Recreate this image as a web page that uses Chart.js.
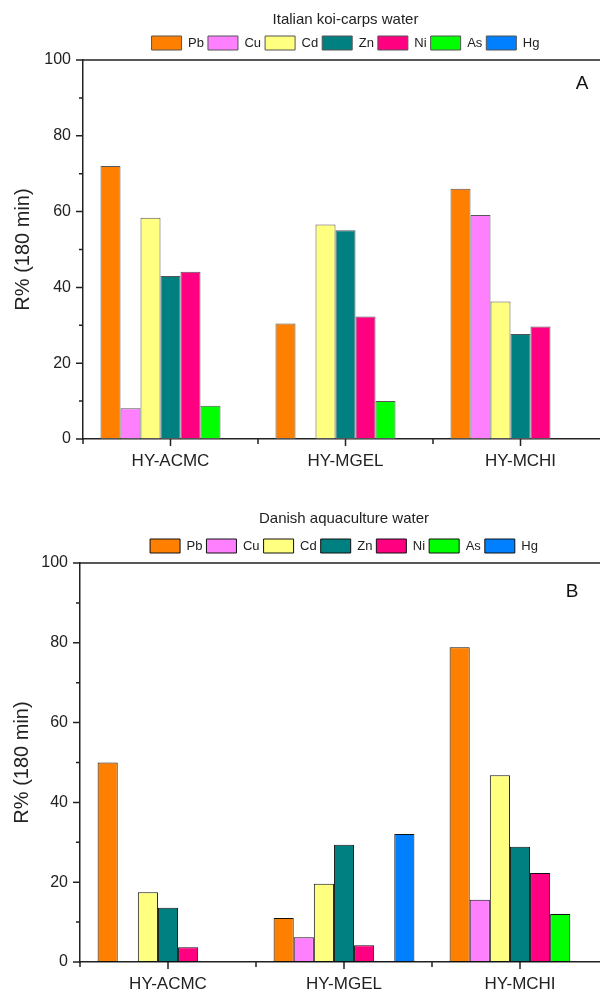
<!DOCTYPE html>
<html>
<head>
<meta charset="utf-8">
<script src="https://cdn.jsdelivr.net/npm/chart.js@4"></script>
<style>
  html, body { margin: 0; padding: 0; background: #fff; }
  #wrap { width: 600px; height: 990px; overflow: hidden; position: relative; }
  .panel { width: 612px; height: 495px; }
</style>
</head>
<body>
<div id="wrap">
  <div class="panel"><canvas id="chartA" width="612" height="495"></canvas></div>
  <div class="panel"><canvas id="chartB" width="612" height="495"></canvas></div>
</div>
<script>
const categories = ["HY-ACMC", "HY-MGEL", "HY-MCHI"];
const metals = ["Pb", "Cu", "Cd", "Zn", "Ni", "As", "Hg"];
const colors = ["#FF8000", "#FF80FF", "#FFFF80", "#008080", "#FF0080", "#00FF00", "#0080FF"];
const yTicks = [0, 20, 40, 60, 80, 100];

// Italian koi-carps water (A), one array per metal
const italianPb = [72.0, 30.5, 66.0];
const italianCu = [8.1, null, 59.1];
const italianCd = [58.4, 56.6, 36.3];
const italianZn = [43.0, 55.1, 27.7];
const italianNi = [44.1, 32.3, 29.7];
const italianAs = [8.8, 10.0, null];
const italianHg = [null, null, null];

// Danish aquaculture water (B)
const danishPb = [50.0, 11.0, 78.9];
const danishCu = [null, 6.2, 15.6];
const danishCd = [17.5, 19.6, 46.8];
const danishZn = [13.6, 29.4, 28.9];
const danishNi = [3.7, 4.2, 22.3];
const danishAs = [null, 0.2, 12.0];
const danishHg = [null, 32.1, null];

const FONT = "'Liberation Sans', Arial, sans-serif";
const INK = "#222";

// axis tick marks (major/minor), top frame line and panel letter
const frameTicks = {
  id: "frameTicks",
  afterDraw(chart, args, opts) {
    const ctx = chart.ctx;
    const area = chart.chartArea;
    const x = chart.scales.x;
    const y = chart.scales.y;
    ctx.save();
    ctx.strokeStyle = INK;
    ctx.lineWidth = 1.5;
    ctx.beginPath();
    ctx.moveTo(area.left, area.top);
    ctx.lineTo(area.right + 10, area.top);
    for (let v = 0; v <= 100; v += 10) {
      const py = y.getPixelForValue(v);
      const len = v % 20 === 0 ? 7 : 4;
      ctx.moveTo(area.left - len, py);
      ctx.lineTo(area.left, py);
    }
    const step = x.getPixelForValue(1) - x.getPixelForValue(0);
    for (let i = 0; i < categories.length; i++) {
      const px = x.getPixelForValue(i);
      ctx.moveTo(px, area.bottom);
      ctx.lineTo(px, area.bottom + 7);
    }
    for (let i = 0; i <= categories.length; i++) {
      const px = x.getPixelForValue(i) - step / 2;
      ctx.moveTo(px, area.bottom);
      ctx.lineTo(px, area.bottom + 5);
    }
    ctx.stroke();
    ctx.fillStyle = "#111";
    ctx.font = "19px " + FONT;
    ctx.textAlign = "center";
    ctx.textBaseline = "middle";
    ctx.fillText(opts.letter, area.right - opts.dx, area.top + opts.dy);
    ctx.restore();
  },
};

function makeChart(id, title, series, o) {
  new Chart(document.getElementById(id), {
    type: "bar",
    data: {
      labels: categories,
      datasets: metals.map((m, i) => ({
        label: m,
        data: series[i],
        backgroundColor: colors[i],
        borderColor: o.edge,
        borderWidth: 1,
        borderSkipped: false,
        categoryPercentage: 0.8,
        barPercentage: 1.0,
      })),
    },
    options: {
      responsive: false,
      animation: false,
      layout: { padding: { left: 0, right: 4, top: 0, bottom: o.padBottom } },
      plugins: {
        title: {
          display: true,
          text: title,
          fullSize: false,
          color: INK,
          font: { family: FONT, size: 15, weight: "normal" },
          padding: { top: o.titleTop, bottom: o.titleBottom },
        },
        legend: {
          display: true,
          fullSize: false,
          labels: {
            color: INK,
            font: { family: FONT, size: 13 },
            boxWidth: 30,
            boxHeight: 14,
            padding: 4,
          },
        },
        tooltip: { enabled: false },
        frameTicks: { letter: o.letter, dx: o.dx, dy: o.dy },
      },
      scales: {
        x: {
          grid: { display: false, drawTicks: true, tickLength: 7 },
          border: { display: true, color: INK, width: 1.5 },
          ticks: { color: INK, font: { family: FONT, size: 17 }, padding: 5, maxRotation: 0 },
          afterFit: (s) => { s.height = 28; },
        },
        y: {
          min: 0,
          max: 100,
          afterBuildTicks: (s) => { s.ticks = yTicks.map((v) => ({ value: v })); },
          grid: { display: false, drawTicks: true, tickLength: 7 },
          border: { display: true, color: INK, width: 1.5 },
          ticks: { color: INK, font: { family: FONT, size: 16 }, padding: 5 },
          title: {
            display: true,
            text: "R% (180 min)",
            color: INK,
            font: { family: FONT, size: 20 },
            padding: { top: o.ytPad, bottom: 0 },
          },
          afterFit: (s) => { s.width = o.axisX; },
        },
      },
    },
    plugins: [frameTicks],
  });
}

makeChart("chartA", "Italian koi-carps water",
  [italianPb, italianCu, italianCd, italianZn, italianNi, italianAs, italianHg],
  { edge: "#555", letter: "A", dx: 26, dy: 24, padBottom: 28, titleTop: 11, titleBottom: 3, ytPad: 11, axisX: 83 });

makeChart("chartB", "Danish aquaculture water",
  [danishPb, danishCu, danishCd, danishZn, danishNi, danishAs, danishHg],
  { edge: "#111", letter: "B", dx: 36, dy: 29, padBottom: 0, titleTop: 15, titleBottom: 7, ytPad: 10, axisX: 80 });
</script>
</body>
</html>
